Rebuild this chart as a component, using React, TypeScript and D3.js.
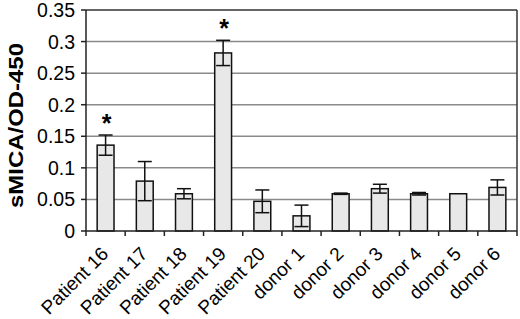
import React from "react";
import * as d3 from "d3";

const categories = ["Patient 16", "Patient 17", "Patient 18", "Patient 19", "Patient 20", "donor 1", "donor 2", "donor 3", "donor 4", "donor 5", "donor 6"];
const values = [0.136, 0.079, 0.059, 0.282, 0.047, 0.024, 0.059, 0.067, 0.059, 0.059, 0.069];
const errors = [0.016, 0.031, 0.008, 0.02, 0.018, 0.017, 0.001, 0.007, 0.002, 0, 0.012];
const significant = [true, false, false, true, false, false, false, false, false, false, false];
const yTicks = [0, 0.05, 0.1, 0.15, 0.2, 0.25, 0.3, 0.35];
const yLabel = "sMICA/OD-450";

const W = 520, H = 319;
const M = { left: 86, right: 3, top: 10, bottom: 88 };

export default function App() {
  const x = d3.scaleBand<string>().domain(categories).range([M.left, W - M.right]).paddingInner(0.57).paddingOuter(0.285);
  const y = d3.scaleLinear().domain([0, 0.35]).range([H - M.bottom, M.top]);
  const bw = x.bandwidth();
  const step = x.step();
  const font = "'Liberation Sans', Arial, Helvetica, sans-serif";
  const x0 = M.left, x1 = W - M.right;
  const yb = y(0);
  return (
    <svg width={W} height={H} style={{ position: "absolute", left: 0, top: 0, background: "#fff" }} fontFamily={font}>
      {yTicks.filter(t => t > 0).map(t => (
        <line key={"g" + t} x1={x0} x2={x1} y1={y(t)} y2={y(t)} stroke={t === 0.35 ? "#333" : "#8a8a8a"} strokeWidth={1.5} />
      ))}
      <line x1={x1} x2={x1} y1={y(0.35)} y2={yb} stroke="#333" strokeWidth={1.5} />
      {categories.map((c, i) => {
        const bx = x(c)!;
        const cx = bx + bw / 2;
        const v = values[i], e = errors[i];
        return (
          <g key={c}>
            <rect x={bx} y={y(v)} width={bw} height={yb - y(v)} fill="#e8e8e8" stroke="#111" strokeWidth={1.5} />
            {e > 0 && (
              <g stroke="#111" strokeWidth={1.5}>
                <line x1={cx} x2={cx} y1={y(v + e)} y2={y(v - e)} />
                <line x1={cx - 7} x2={cx + 7} y1={y(v + e)} y2={y(v + e)} />
                <line x1={cx - 7} x2={cx + 7} y1={y(v - e)} y2={y(v - e)} />
              </g>
            )}
            {significant[i] && (
              <text x={cx + 1} y={y(v + e) - 3} textAnchor="middle" fontSize={25} fontWeight="bold">*</text>
            )}
          </g>
        );
      })}
      <line x1={x0} x2={x0} y1={y(0.35)} y2={yb} stroke="#222" strokeWidth={1.5} />
      <line x1={x0} x2={x1} y1={yb} y2={yb} stroke="#222" strokeWidth={1.5} />
      {yTicks.map(t => (
        <g key={"t" + t}>
          <line x1={x0 - 5} x2={x0} y1={y(t)} y2={y(t)} stroke="#222" strokeWidth={1.5} />
          <text x={x0 - 11} y={y(t)} dy="0.36em" textAnchor="end" fontSize={19.5}>{String(t)}</text>
        </g>
      ))}
      {d3.range(categories.length + 1).map(i => (
        <line key={"xt" + i} x1={x0 + i * step} x2={x0 + i * step} y1={yb} y2={yb + 5} stroke="#222" strokeWidth={1.5} />
      ))}
      {categories.map(c => {
        const cx = x(c)! + bw / 2 + 4;
        return (
          <text key={"l" + c} transform={`translate(${cx},${yb + 24}) rotate(-45)`} textAnchor="end" fontSize={19}>{c}</text>
        );
      })}
      <text transform={`translate(22.5,125.5) rotate(-90)`} textAnchor="middle" fontSize={20.5} fontWeight="bold" textLength={165} lengthAdjust="spacingAndGlyphs">{yLabel}</text>
    </svg>
  );
}
